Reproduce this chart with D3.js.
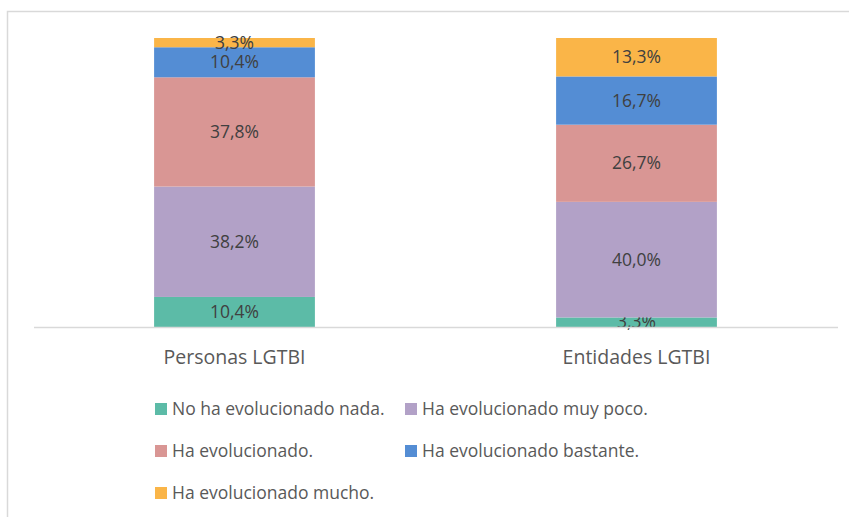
<!DOCTYPE html>
<html>
<head>
<meta charset="utf-8">
<script src="https://cdn.jsdelivr.net/npm/d3@7"></script>
<style>
  body { margin: 0; background: #fff; }
  text { font-family: "Open Sans", "Noto Sans", sans-serif; }
</style>
</head>
<body>
<svg id="chart"></svg>
<script>
var categories = ["Personas LGTBI", "Entidades LGTBI"];
var seriesNames = ["No ha evolucionado nada.", "Ha evolucionado muy poco.", "Ha evolucionado.", "Ha evolucionado bastante.", "Ha evolucionado mucho."];
var seriesColors = ["#5cbba7", "#b2a1c7", "#d99694", "#548dd4", "#fab548"];
var personas = [10.4, 38.2, 37.8, 10.4, 3.3];
var entidades = [3.3, 40.0, 26.7, 16.7, 13.3];

var W = 849, H = 517;
var svg = d3.select("#chart").attr("width", W).attr("height", H);

// outer border (chart area frame, cut off on right/bottom)
svg.append("path")
  .attr("d", "M7.5,520 L7.5,11.5 L852,11.5")
  .attr("fill", "none")
  .attr("stroke", "#d9d9d9")
  .attr("stroke-width", 1.5);

var x = d3.scaleBand()
  .domain(categories)
  .range([33.5, 837.5])
  .paddingInner(0.6)
  .paddingOuter(0.3);

var y = d3.scaleLinear()
  .domain([0, 100])
  .range([327, 38]);

var rows = categories.map(function (c, i) {
  var vals = i === 0 ? personas : entidades;
  var o = { cat: c };
  seriesNames.forEach(function (s, j) { o[s] = vals[j]; });
  return o;
});

var stacked = d3.stack().keys(seriesNames)(rows);

var layer = svg.append("g").selectAll("g")
  .data(stacked)
  .enter().append("g")
  .attr("fill", function (d, i) { return seriesColors[i]; });

layer.selectAll("rect")
  .data(function (d) { return d; })
  .enter().append("rect")
  .attr("x", function (d) { return x(d.data.cat); })
  .attr("width", x.bandwidth())
  .attr("y", function (d) { return y(Math.min(d[1], 100)); })
  .attr("height", function (d) { return y(d[0]) - y(Math.min(d[1], 100)); });

layer.selectAll("text")
  .data(function (d) { return d; })
  .enter().append("text")
  .attr("x", function (d) { return x(d.data.cat) + x.bandwidth() / 2; })
  .attr("y", function (d) { return (y(d[0]) + y(Math.min(d[1], 100))) / 2; })
  .attr("dy", "0.35em")
  .attr("text-anchor", "middle")
  .attr("fill", "#404040")
  .style("font-size", "17.5px")
  .text(function (d) { return (d[1] - d[0]).toFixed(1).replace(".", ",") + "%"; });

// x axis
var xAxis = svg.append("g")
  .attr("transform", "translate(0,327)")
  .call(d3.axisBottom(x).tickSize(0).tickPadding(23));
xAxis.select(".domain").attr("stroke", "#d9d9d9").attr("stroke-width", 1.5);
xAxis.selectAll(".tick text")
  .attr("fill", "#595959")
  .style("font-size", "19.5px")
  .style("font-family", "'Open Sans', 'Noto Sans', sans-serif");

// legend
var legendPos = [[155, 409], [405, 409], [155, 451], [405, 451], [155, 493]];
var legend = svg.append("g").selectAll("g")
  .data(seriesNames)
  .enter().append("g")
  .attr("transform", function (d, i) { return "translate(" + legendPos[i][0] + "," + legendPos[i][1] + ")"; });

legend.append("rect")
  .attr("x", 0).attr("y", -6)
  .attr("width", 12).attr("height", 12)
  .attr("fill", function (d, i) { return seriesColors[i]; });

legend.append("text")
  .attr("x", 17)
  .attr("dy", "0.35em")
  .attr("fill", "#595959")
  .style("font-size", "17.5px")
  .text(function (d) { return d; });
</script>
</body>
</html>
